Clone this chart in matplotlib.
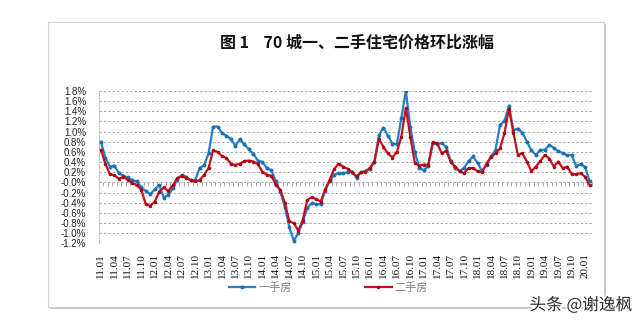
import numpy as np
import matplotlib
matplotlib.use("Agg")
import matplotlib.pyplot as plt
from matplotlib.patches import Rectangle
from matplotlib.ticker import FixedLocator, FuncFormatter
import matplotlib.patheffects as pe

# Monthly month-on-month change (%) of 70-city housing prices, 2011.01 - 2020.02
new_home = [
    0.80, 0.48, 0.31, 0.33, 0.18, 0.13, 0.10, 0.04, 0.02, -0.10, -0.17, -0.23,
    -0.14, -0.05, -0.30, -0.25, -0.12, 0.05, 0.14, 0.11, 0.04, 0.04, 0.28, 0.34,
    0.57, 1.10, 1.10, 0.97, 0.92, 0.85, 0.72, 0.85, 0.75, 0.65, 0.56, 0.43,
    0.40, 0.28, 0.24, 0.02, -0.18, -0.48, -0.88, -1.15, -1.00, -0.78, -0.50, -0.41,
    -0.43, -0.43, -0.16, 0.02, 0.15, 0.18, 0.18, 0.20, 0.21, 0.09, 0.20, 0.22,
    0.26, 0.41, 0.93, 1.08, 0.92, 0.76, 0.75, 1.27, 1.80, 1.09, 0.60, 0.29,
    0.24, 0.32, 0.77, 0.76, 0.77, 0.70, 0.42, 0.28, 0.22, 0.29, 0.42, 0.51,
    0.38, 0.22, 0.35, 0.51, 0.64, 1.13, 1.21, 1.51, 1.03, 1.06, 0.98, 0.80,
    0.63, 0.54, 0.64, 0.64, 0.74, 0.68, 0.61, 0.58, 0.53, 0.54, 0.32, 0.36,
    0.30, 0.02,
]
second_home = [
    0.64, 0.36, 0.16, 0.14, 0.07, 0.11, 0.05, -0.02, -0.05, -0.15, -0.43, -0.46,
    -0.38, -0.18, -0.10, -0.17, -0.06, 0.08, 0.13, 0.09, 0.04, 0.02, 0.04, 0.15,
    0.28, 0.63, 0.60, 0.52, 0.48, 0.37, 0.34, 0.37, 0.42, 0.43, 0.41, 0.36,
    0.21, 0.15, 0.13, -0.05, -0.15, -0.40, -0.77, -0.80, -0.95, -0.75, -0.35, -0.29,
    -0.33, -0.38, -0.14, 0.05, 0.26, 0.37, 0.31, 0.27, 0.20, 0.12, 0.20, 0.21,
    0.29, 0.41, 0.86, 0.70, 0.57, 0.49, 0.60, 0.90, 1.47, 0.90, 0.38, 0.33,
    0.35, 0.35, 0.79, 0.77, 0.57, 0.62, 0.41, 0.31, 0.22, 0.18, 0.28, 0.28,
    0.22, 0.20, 0.37, 0.50, 0.57, 0.67, 0.97, 1.45, 0.97, 0.54, 0.57, 0.41,
    0.22, 0.31, 0.42, 0.54, 0.47, 0.31, 0.41, 0.28, 0.31, 0.16, 0.16, 0.18,
    0.11, -0.06,
]
months = [f"{y:02d}.{m:02d}" for y in range(11, 21) for m in range(1, 13)][:len(new_home)]
tick_labels = [m for m in months if m[3:] in ("01", "04", "07", "10")]
series_names = ["一手房", "二手房"]
title = "图 1    70 城一、二手住宅价格环比涨幅"
watermark = "头条 @谢逸枫"

cjk = ["Noto Sans CJK SC", "DejaVu Sans"]

fig = plt.figure(figsize=(6.41, 3.24), dpi=100)
fig.patch.set_facecolor("white")

# card with a soft shadow
fig.patches.append(Rectangle((0.078, 0.046), 0.867, 0.880, transform=fig.transFigure,
                             facecolor="#c4c4c4", edgecolor="none", zorder=-3))
fig.patches.append(Rectangle((0.075, 0.0525), 0.867, 0.8796, transform=fig.transFigure,
                             facecolor="white", edgecolor="#d0d0d0", linewidth=0.8, zorder=-2))

ax = fig.add_axes([0.154, 0.2491, 0.7694, 0.4700])
ax.set_zorder(2)
ax.set_facecolor("none")
x = np.arange(len(new_home))

blue = "#2480c8"
red = "#c8101c"
ax.plot(x, new_home, color=blue, lw=1.6, marker="o", ms=1.8, mfc="#1d6fb3",
        mec="#1d6fb3", zorder=3, label=series_names[0])
ax.plot(x, second_home, color=red, lw=1.6, marker="o", ms=1.5, mfc="#b00010",
        mec="#b00010", zorder=4, label=series_names[1])

ax.set_xlim(-0.5, len(new_home) - 0.5)
ax.set_ylim(-1.2, 1.8)
yt = np.round(np.arange(-1.2, 1.81, 0.2), 1)
ax.set_yticks(yt)
ax.yaxis.set_major_formatter(FuncFormatter(lambda v, p: f"{v:.1f}%"))
ax.tick_params(axis="y", length=0, pad=9, labelsize=7, labelcolor="#222222")
for lab in ax.get_yticklabels():
    lab.set_family("Liberation Sans")

for v in yt:
    ax.axhline(v, color="#a8a8a8", lw=0.7, ls=(0, (2.5, 2)), zorder=1)

ax.set_xticks([months.index(t) for t in tick_labels])
ax.set_xticklabels(tick_labels, rotation=90, family="Liberation Serif", fontsize=8)
ax.tick_params(axis="x", length=0, pad=7, labelcolor="#111111")

for s in ["top", "right", "bottom"]:
    ax.spines[s].set_visible(False)
ax.spines["left"].set_color("#c8c8c8")
ax.spines["left"].set_linewidth(0.8)

# category tick marks on the zero line
zero_frac = (0 - (-1.2)) / (1.8 - (-1.2))
sec = ax.secondary_xaxis(zero_frac)
sec.spines["bottom"].set_visible(False)
sec.xaxis.set_major_locator(FixedLocator(np.arange(-0.5, len(new_home), 1.0)))
sec.tick_params(axis="x", direction="out", length=3, width=0.6, color="#9a9a9a",
                labelbottom=False)

fig.text(0.557, 0.868, title, ha="center", va="center", fontsize=11.5,
         fontweight="bold", family=cjk, color="#111111")

leg = fig.legend(loc="center", bbox_to_anchor=(0.512, 0.112), ncol=2, frameon=False,
                 prop={"family": cjk, "size": 8}, handlelength=2.4, columnspacing=6.6,
                 handletextpad=0.25)
for t in leg.get_texts():
    t.set_color("#808080")

fig.text(0.906, 0.058, watermark, ha="center", va="center", fontsize=12,
         family=cjk, color="#2b2b2b", zorder=10,
         path_effects=[pe.withStroke(linewidth=2.5, foreground="white")])

fig.savefig("out.png", dpi=100, facecolor="white")
